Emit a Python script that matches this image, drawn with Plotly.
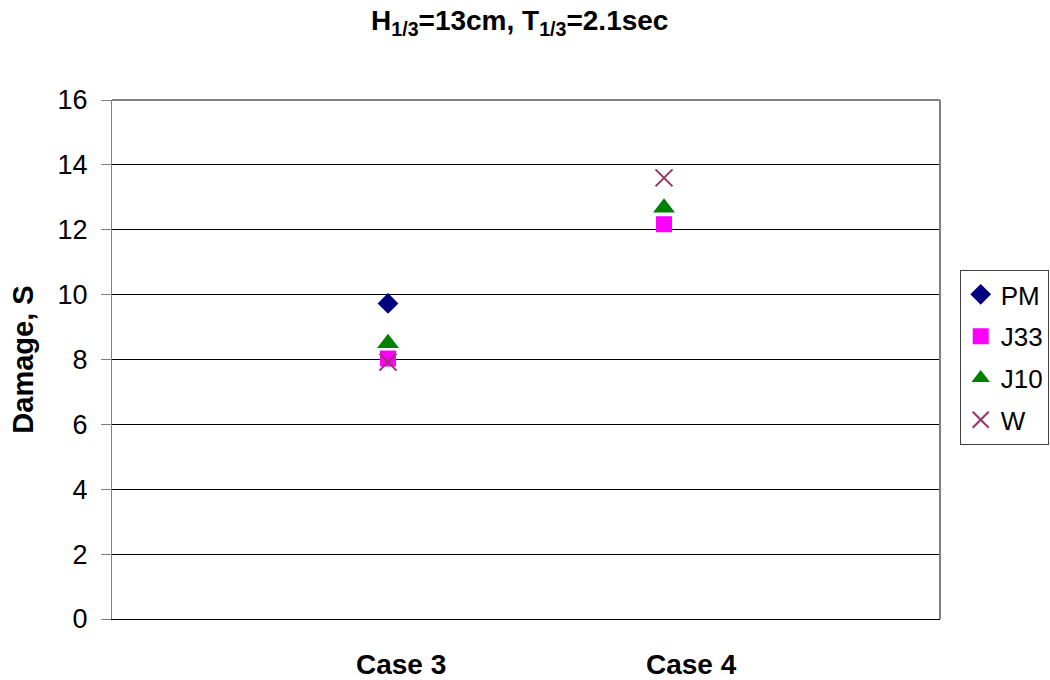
import plotly.graph_objects as go

# Damage level S per wave spectrum and test case
cases = ["Case 3", "Case 4"]
pm = [9.73, None]
j33 = [8.03, 12.17]
j10 = [8.5, 12.68]
w = [7.92, 13.6]

y_ticks = [0, 2, 4, 6, 8, 10, 12, 14, 16]

FONT = "Liberation Sans, Arial, sans-serif"

series = [
    ("PM", pm, dict(symbol="diamond", size=16, color="#000080")),
    ("J33", j33, dict(symbol="square", size=16, color="#FF00FF")),
    ("J10", j10, dict(symbol="triangle-up", size=19, color="#008000")),
    ("W", w, dict(symbol="x-thin", size=17, color="#993366",
                  line=dict(width=2, color="#993366"))),
]

fig = go.Figure()
for name, vals, marker in series:
    fig.add_trace(go.Scatter(
        x=cases, y=vals, name=name, mode="markers", marker=marker,
        legendgroup=name, cliponaxis=False,
    ))

# Category captions sit a little right of their marker column
caption_shift = [13, 27]
for case, dx in zip(cases, caption_shift):
    fig.add_annotation(
        x=case, xref="x", y=0, yref="y", yanchor="top",
        xshift=dx, yshift=-28, showarrow=False,
        text=f"<b>{case}</b>",
        font=dict(family=FONT, size=28, color="black"),
    )

fig.update_layout(
    width=1050, height=680,
    margin=dict(l=112, r=110, t=100, b=61, autoexpand=False),
    paper_bgcolor="white", plot_bgcolor="white",
    font=dict(family=FONT, size=27, color="black"),
    showlegend=True,
    title=dict(
        text="<b>H<sub>1/3</sub>=13cm, T<sub>1/3</sub>=2.1sec</b>",
        font=dict(family=FONT, size=28, color="black"),
        x=0.495, xanchor="center", y=0.97, yanchor="middle",
    ),
    legend=dict(
        xref="container", yref="container",
        x=0.914, xanchor="left", y=0.603, yanchor="top",
        bordercolor="#404040", borderwidth=1, bgcolor="white",
        font=dict(family=FONT, size=26, color="black"),
        tracegroupgap=5, itemsizing="trace",
    ),
    xaxis=dict(
        type="category", range=[-1, 2], automargin=False,
        showgrid=False, zeroline=False,
        showline=True, linecolor="black", linewidth=1,
        ticks="", showticklabels=False,
    ),
    yaxis=dict(
        range=[0, 16], tickvals=y_ticks, automargin=False,
        showgrid=True, gridcolor="black", gridwidth=1,
        zeroline=False,
        showline=True, linecolor="#808080", linewidth=1,
        ticks="outside", ticklen=10, tickcolor="#808080",
        ticklabelstandoff=8,
        tickfont=dict(family=FONT, size=27, color="black"),
        title=dict(text="<b>Damage, S</b>", standoff=15,
                   font=dict(family=FONT, size=29, color="black")),
    ),
)

# Gray frame along the top and right edges of the plot area
fig.add_shape(type="line", xref="paper", yref="paper", x0=0, x1=1, y0=1, y1=1,
              line=dict(color="#808080", width=2), layer="above")
fig.add_shape(type="line", xref="paper", yref="paper", x0=1, x1=1, y0=0, y1=1,
              line=dict(color="#808080", width=2), layer="above")

fig.write_html("out.html")
